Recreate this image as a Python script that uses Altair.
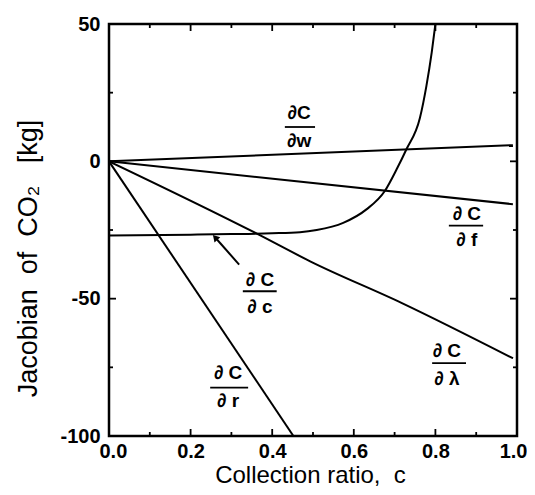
import altair as alt
import pandas as pd

# ---- data series ----
w_c = [0.0, 0.99]
w_v = [0.0, 5.9]
f_c = [0.0, 0.99]
f_v = [0.0, -15.6]
lam_c = [0.0, 0.366, 0.493, 0.718, 0.99]
lam_v = [0.0, -26.6, -36.4, -51.6, -71.7]
r_c = [0.0, 0.452]
r_v = [0.0, -100.0]
cc_c = [0.0, 0.2, 0.3, 0.4, 0.468, 0.509, 0.574, 0.631, 0.676, 0.705, 0.729, 0.762, 0.778, 0.791, 0.800]
cc_v = [-27.0, -26.7, -26.5, -26.2, -25.8, -25.0, -22.4, -17.5, -10.8, -2.9, 4.4, 15.8, 27.5, 39.7, 50.0]

# ---- ticks ----
x_major = [0.0, 0.2, 0.4, 0.6, 0.8, 1.0]
x_minor = [0.1, 0.3, 0.5, 0.7, 0.9]
y_major = [-100, -50, 0, 50]
y_minor = [-75, -25, 25]

# ---- annotations ----
num_text = ["∂C", "∂ C", "∂ C", "∂ C", "∂ C"]
den_text = ["∂w", "∂ f", "∂ c", "∂ λ", "∂ r"]
lab_c = [0.466, 0.877, 0.370, 0.828, 0.292]
num_v = [17.7, -19.3, -43.1, -69.2, -77.0]
bar_v = [12.5, -23.4, -47.3, -73.5, -82.4]
den_v = [7.4, -28.5, -52.9, -79.2, -87.1]
bar_c1 = [0.431, 0.833, 0.328, 0.792, 0.248]
bar_c2 = [0.505, 0.917, 0.411, 0.875, 0.341]
arrow_c = [0.319, 0.262]
arrow_v = [-37.6, -28.0]

FONT = "Liberation Sans"
X0, X1 = 0.0, 1.0
Y0, Y1 = -100, 50
SP = "\u00a0"

rows = []
for name, cs, vs in [("w", w_c, w_v), ("f", f_c, f_v), ("lam", lam_c, lam_v),
                     ("r", r_c, r_v), ("c", cc_c, cc_v)]:
    for i, (c, v) in enumerate(zip(cs, vs)):
        rows.append({"series": name, "c": c, "v": v, "order": i})
df_lines = pd.DataFrame(rows)

xs = alt.Scale(domain=[X0, X1], nice=False, zero=False)
ys = alt.Scale(domain=[Y0, Y1], nice=False, zero=False)

main_x = alt.Axis(orient="bottom", values=x_major, format=".1f", ticks=False, tickSize=0,
                  domain=False, grid=False, labelPadding=5, labelFontSize=20,
                  labelFontWeight="bold", labelFont=FONT, labelColor="black",
                  labelFlush=True, labelFlushOffset=10,
                  title="Collection ratio," + SP * 2 + "c",
                  titleFont=FONT, titleFontSize=24, titleFontWeight="normal",
                  titleColor="black", titleX=201, titleY=39, titleBaseline="middle",
                  titleAlign="center")
main_y = alt.Axis(orient="left", values=y_major, labelExpr="'' + datum.value", ticks=False,
                  tickSize=0, domain=False, grid=False, labelPadding=9, labelFontSize=20,
                  labelFontWeight="bold", labelFont=FONT, labelColor="black",
                  title="Jacobian" + SP * 2 + "of" + SP * 2 + "CO₂" + SP * 3 + "[kg]",
                  titleFont=FONT, titleFontSize=27, titleFontWeight="normal",
                  titleColor="black", titleAngle=270, titleX=-81, titleY=234,
                  titleBaseline="middle", titleAlign="center")

lines = alt.Chart(df_lines).mark_line(color="black", strokeWidth=2, clip=True,
                                      interpolate="monotone").encode(
    x=alt.X("c:Q", scale=xs, axis=main_x),
    y=alt.Y("v:Q", scale=ys, axis=main_y),
    detail="series:N",
    order="order:Q",
)


# inward ticks on all four sides, drawn as short rules anchored at the frame
def xticks(vals, at, off):
    df = pd.DataFrame({"t": vals})
    return alt.Chart(df).mark_rule(color="black", strokeWidth=1.8, y2Offset=off).encode(
        x=alt.X("t:Q", scale=xs, axis=None),
        y=alt.Y(datum=at, scale=ys, axis=None),
        y2=alt.Y2(datum=at),
    )


def yticks(vals, at, off):
    df = pd.DataFrame({"t": vals})
    return alt.Chart(df).mark_rule(color="black", strokeWidth=1.8, x2Offset=off).encode(
        y=alt.Y("t:Q", scale=ys, axis=None),
        x=alt.X(datum=at, scale=xs, axis=None),
        x2=alt.X2(datum=at),
    )


ticks = [
    xticks(x_major, Y0, -7), xticks(x_minor, Y0, -4),
    xticks(x_major, Y1, 7), xticks(x_minor, Y1, 4),
    yticks(y_major, X0, 7), yticks(y_minor, X0, 4),
    yticks(y_major, X1, -7), yticks(y_minor, X1, -4),
]

df_lab = pd.DataFrame({"num": num_text, "den": den_text, "c": lab_c, "nv": num_v,
                       "bv": bar_v, "dv": den_v, "c1": bar_c1, "c2": bar_c2})

num_layer = alt.Chart(df_lab).mark_text(font=FONT, fontSize=19, fontWeight="bold",
                                        color="black", baseline="middle", align="center").encode(
    x=alt.X("c:Q", scale=xs, axis=None), y=alt.Y("nv:Q", scale=ys, axis=None), text="num:N")
den_layer = alt.Chart(df_lab).mark_text(font=FONT, fontSize=19, fontWeight="bold",
                                        color="black", baseline="middle", align="center").encode(
    x=alt.X("c:Q", scale=xs, axis=None), y=alt.Y("dv:Q", scale=ys, axis=None), text="den:N")
bar_layer = alt.Chart(df_lab).mark_rule(color="black", strokeWidth=1.8).encode(
    x=alt.X("c1:Q", scale=xs, axis=None), x2="c2:Q",
    y=alt.Y("bv:Q", scale=ys, axis=None))

df_arrow = pd.DataFrame({"c": [arrow_c[0]], "v": [arrow_v[0]],
                         "c2": [arrow_c[1]], "v2": [arrow_v[1]]})
arrow_line = alt.Chart(df_arrow).mark_rule(color="black", strokeWidth=2).encode(
    x=alt.X("c:Q", scale=xs, axis=None), y=alt.Y("v:Q", scale=ys, axis=None),
    x2="c2:Q", y2="v2:Q")
arrow_head = alt.Chart(df_arrow).mark_point(shape="triangle", filled=True, color="black",
                                            size=60, angle=318, opacity=1).encode(
    x=alt.X("c2:Q", scale=xs, axis=None), y=alt.Y("v2:Q", scale=ys, axis=None))

chart = alt.layer(lines, *ticks, num_layer, den_layer, bar_layer,
                  arrow_line, arrow_head).resolve_axis(
    x="independent", y="independent"
).properties(
    width=408, height=412,
    autosize=alt.AutoSizeParams(type="none"),
    padding={"left": 101, "top": 16, "right": 10, "bottom": 51},
    background="white",
).configure_view(stroke="black", strokeWidth=2.5)

chart.save("out.html", embed_options={"renderer": "svg", "actions": False})
